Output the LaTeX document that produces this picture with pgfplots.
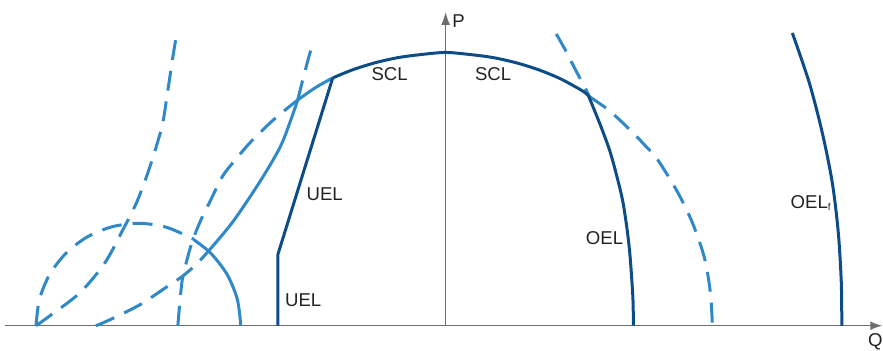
\documentclass[border=0pt]{standalone}
\usepackage{fontspec}
\setmainfont{Liberation Sans}
\usepackage{pgfplots}
\pgfplotsset{compat=1.18}
\usetikzlibrary{arrows.meta}
\definecolor{darkb}{HTML}{0E4C88}
\definecolor{lightb}{HTML}{2F88C8}
\definecolor{axgray}{HTML}{6E6E6E}
\definecolor{txt}{HTML}{222222}

\begin{document}
\begin{tikzpicture}
\begin{axis}[
  hide axis,
  x=0.5pt,y=0.5pt,
  xmin=-446,xmax=437,ymin=-24,ymax=326,
  clip=false,
  every axis plot/.append style={line width=1.5pt},
  dashpat/.style={dash pattern=on 10pt off 5.5pt}]
\path (axis cs:-446,-24) rectangle (axis cs:437,326);

% axes
\draw[axgray,line width=0.75pt,-{Latex[length=6pt,width=4.5pt]}] (axis cs:-441,0) -- (axis cs:437,0);
\draw[axgray,line width=0.75pt,-{Latex[length=6.5pt,width=4.5pt]}] (axis cs:0,0) -- (axis cs:0,314);

% light blue limits
\addplot[lightb,dashpat,smooth] coordinates {
  (-410,0)(-406.5,26.5)(-396.3,51.3)(-380,72.5)(-358.8,88.8)(-334,99)
  (-307.5,102.5)(-281,99)(-256.3,88.8)(-252.4,86.4)};
\addplot[lightb,smooth] coordinates {
  (-252.4,86.4)(-235,72.5)(-218.7,51.3)(-208.5,26.5)(-205,0)};
\addplot[lightb,dashpat,smooth] coordinates {
  (-410,0)(-396,10)(-366,33)(-341,63)(-323,96)(-309,124)(-296,159)
  (-284,199)(-279,229)(-273,269)(-269,293)};
\addplot[lightb,dashpat,smooth] coordinates {
  (-350,0)(-336,6)(-306,21)(-276,41)(-264,49)(-250,61)(-238,74)};
\addplot[lightb,dashpat,smooth] coordinates {
  (-268,0)(-266,23)(-263,49)(-254,83)(-244,108)(-236,124)(-223,150)
  (-208,169)(-196,183)(-183,196)(-169,209)(-148,226)};
\addplot[lightb,dashpat,smooth] coordinates {
  (-148,226)(-143,246)(-138,265)(-133,283)};
\addplot[lightb,smooth] coordinates {
  (-238,74)(-213,104)(-186,144)(-166,178)(-156,203)(-148,226)};
\addplot[lightb,smooth] coordinates {
  (-148,226)(-130,238.5)(-113,248)};
\addplot[lightb,dashpat,smooth] coordinates {
  (110.7,292)(121.3,273.3)(128.3,259.3)(138,241)(144,229.3)};
\addplot[lightb,dashpat,smooth] coordinates {
  (144,229.3)(160.7,217.7)(172.3,207.7)(187.3,193.3)(199,181)(212.3,166)
  (232,134)(247,103)(259,68)(265,33)(267,0)};

% dark limits
\addplot[darkb,line join=miter] coordinates {(-168,0)(-168,71)(-113,248)};
\addplot[darkb,smooth] coordinates {
  (-113,248)(-93.2,256.1)(-70.5,263.2)(-47.3,268.4)(-23.8,271.5)(0,273.5)
  (23.8,271.5)(47.3,268.4)(70.5,263.2)(93.2,256.1)(115.2,247)(137,235)(143,230)};
\addplot[darkb,smooth] coordinates {
  (143,230)(154,203)(164,176)(171,151)(177,126)(181,101)(184,76)(186,51)(187.5,26)(188,0)};
\addplot[darkb,smooth] coordinates {
  (347,293)(364,243)(377,193)(387,143)(393,93)(396,43)(396.5,0)};

% labels
\begin{scope}[every node/.style={text=txt,font=\fontsize{9.3}{10}\selectfont,inner sep=0pt}]
\node at (axis cs:-56,251.5) {SCL};
\node at (axis cs:47.5,251.5) {SCL};
\node at (axis cs:-121,131.5) {UEL};
\node at (axis cs:-142.5,26) {UEL};
\node at (axis cs:159,88) {OEL};
\node[anchor=west] at (axis cs:345,122.5) {OEL\textsubscript{\fontsize{5}{5}\selectfont f}};
\node at (axis cs:13,305) {P};
\node at (axis cs:430,-16.5) {Q};
\end{scope}
\end{axis}
\end{tikzpicture}
\end{document}
